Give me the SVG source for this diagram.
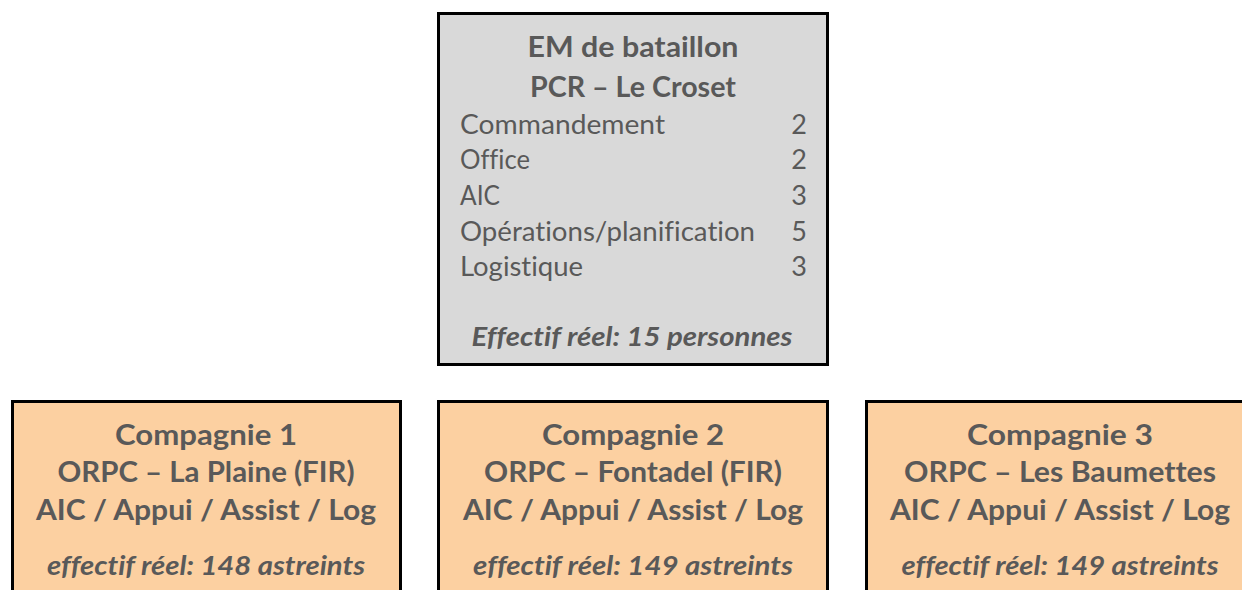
<svg xmlns="http://www.w3.org/2000/svg" width="1242" height="590" viewBox="0 0 1242 590">
<style>
.box{stroke:#000;stroke-width:3}
.em{fill:#d9d9d9}
.cp{fill:#fcd0a1}
text{font-family:Lato,"Open Sans","Liberation Sans",sans-serif;fill:#595959;font-variant-ligatures:no-common-ligatures;font-feature-settings:"liga" 0}
.b{font-weight:700;font-size:28px}
.r{font-size:27px}
.bi{font-weight:700;font-style:italic;font-size:26px}
.c{text-anchor:middle}
.e{text-anchor:end}
</style>
<rect width="1242" height="590" fill="#fff"/>
<g id="connectors"/>
<g id="em-bataillon">
<rect class="box em" x="438.5" y="13.5" width="389" height="351"/>
<text class="b c" x="633" y="57" textLength="211" lengthAdjust="spacingAndGlyphs">EM de bataillon</text>
<text class="b c" x="633" y="97" textLength="206" lengthAdjust="spacingAndGlyphs">PCR – Le Croset</text>
<text class="r" x="460" y="134" textLength="205" lengthAdjust="spacingAndGlyphs">Commandement</text>
<text class="r" x="460" y="169" textLength="70" lengthAdjust="spacingAndGlyphs">Office</text>
<text class="r" x="460" y="205" textLength="40" lengthAdjust="spacingAndGlyphs">AIC</text>
<text class="r" x="460" y="241" textLength="295" lengthAdjust="spacingAndGlyphs">Opérations/planification</text>
<text class="r" x="460" y="276" textLength="123" lengthAdjust="spacingAndGlyphs">Logistique</text>
<text class="r e" x="807" y="134">2</text>
<text class="r e" x="807" y="169">2</text>
<text class="r e" x="807" y="205">3</text>
<text class="r e" x="807" y="241">5</text>
<text class="r e" x="807" y="276">3</text>
<text class="bi c" x="632" y="346" textLength="321" lengthAdjust="spacingAndGlyphs">Effectif réel: 15 personnes</text>
</g>
<g id="compagnie-1">
<rect class="box cp" x="12.5" y="401.5" width="388" height="210"/>
<text class="b c" x="206" y="445" textLength="182" lengthAdjust="spacingAndGlyphs">Compagnie 1</text>
<text class="b c" x="206" y="482" textLength="297" lengthAdjust="spacingAndGlyphs">ORPC – La Plaine (FIR)</text>
<text class="b c" x="206" y="520" textLength="340" lengthAdjust="spacingAndGlyphs">AIC / Appui / Assist / Log</text>
<text class="bi c" x="206" y="575" textLength="318" lengthAdjust="spacingAndGlyphs">effectif réel: 148 astreints</text>
</g>
<g id="compagnie-2">
<rect class="box cp" x="438.5" y="401.5" width="389" height="210"/>
<text class="b c" x="633" y="445" textLength="182" lengthAdjust="spacingAndGlyphs">Compagnie 2</text>
<text class="b c" x="633" y="482" textLength="298" lengthAdjust="spacingAndGlyphs">ORPC – Fontadel (FIR)</text>
<text class="b c" x="633" y="520" textLength="340" lengthAdjust="spacingAndGlyphs">AIC / Appui / Assist / Log</text>
<text class="bi c" x="633" y="575" textLength="320" lengthAdjust="spacingAndGlyphs">effectif réel: 149 astreints</text>
</g>
<g id="compagnie-3">
<rect class="box cp" x="866.5" y="401.5" width="389" height="210"/>
<text class="b c" x="1060" y="445" textLength="186" lengthAdjust="spacingAndGlyphs">Compagnie 3</text>
<text class="b c" x="1060" y="482" textLength="312" lengthAdjust="spacingAndGlyphs">ORPC – Les Baumettes</text>
<text class="b c" x="1060" y="520" textLength="340" lengthAdjust="spacingAndGlyphs">AIC / Appui / Assist / Log</text>
<text class="bi c" x="1060" y="575" textLength="317" lengthAdjust="spacingAndGlyphs">effectif réel: 149 astreints</text>
</g>
</svg>
